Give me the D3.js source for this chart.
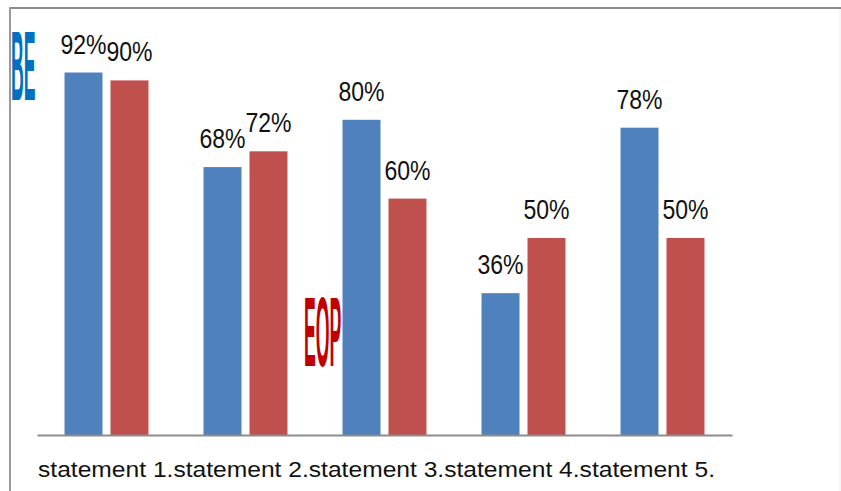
<!DOCTYPE html>
<html>
<head>
<meta charset="utf-8">
<script src="https://cdn.jsdelivr.net/npm/d3@7"></script>
<style>
  html, body { margin: 0; padding: 0; background: #fff; }
  svg { display: block; font-family: "Liberation Sans", Arial, sans-serif; }
</style>
</head>
<body>
<svg id="chart" width="841" height="491"></svg>
<script>
// Statement categories and the two survey groups (percent agreeing)
const categories = ["statement 1.", "statement 2.", "statement 3.", "statement 4.", "statement 5."];
const seriesNames = ["BE", "EOP"];
const beValues = [92, 68, 80, 36, 78];
const eopValues = [90, 72, 60, 50, 50];
const seriesColors = ["#4F81BD", "#C0504D"];

const svg = d3.select("#chart");

const x0 = d3.scaleBand()
  .domain(categories)
  .range([37, 732])
  .paddingInner(0.396)
  .paddingOuter(0.198);

const x1 = d3.scaleBand()
  .domain(seriesNames)
  .range([0, x0.bandwidth()])
  .paddingInner(0.174);

const y = d3.scaleLinear().domain([0, 100]).range([435, 41]);

// Frame lines
svg.append("line").attr("x1", 9).attr("x2", 841).attr("y1", 8).attr("y2", 8)
  .attr("stroke", "#8a8a8a").attr("stroke-width", 2);
svg.append("line").attr("x1", 10).attr("x2", 10).attr("y1", 7).attr("y2", 491)
  .attr("stroke", "#9a9a9a").attr("stroke-width", 2);
svg.append("line").attr("x1", 840).attr("x2", 840).attr("y1", 9).attr("y2", 491)
  .attr("stroke", "#ececec").attr("stroke-width", 1);

// Squeezed series name markers
function marker(text, color, xPos, yBase) {
  svg.append("text")
    .attr("transform", `translate(${xPos},${yBase}) scale(0.18,1)`)
    .attr("font-size", 98)
    .attr("font-weight", "bold")
    .attr("fill", color)
    .text(text);
}
marker("BE", "#0070C0", 11, 100);
marker("EOP", "#C00000", 304, 366);

const rows = categories.map((c, i) => ({ cat: c, values: [beValues[i], eopValues[i]] }));

const groups = svg.append("g").selectAll("g")
  .data(rows)
  .join("g")
  .attr("transform", d => `translate(${x0(d.cat)},0)`);

groups.selectAll("rect")
  .data(d => d.values.map((v, k) => ({ key: seriesNames[k], v, k })))
  .join("rect")
  .attr("x", d => x1(d.key))
  .attr("width", x1.bandwidth())
  .attr("y", d => y(d.v))
  .attr("height", d => y(0) - y(d.v))
  .attr("fill", d => seriesColors[d.k]);

groups.selectAll("text.val")
  .data(d => d.values.map((v, k) => ({ key: seriesNames[k], v, k })))
  .join("text")
  .attr("class", "val")
  .attr("transform", d => `translate(${x1(d.key) + x1.bandwidth() / 2},${y(d.v) - 19}) scale(0.96,1.12)`)
  .attr("text-anchor", "middle")
  .attr("font-size", 24)
  .attr("fill", "#111")
  .text(d => d.v + "%");

// Category axis: baseline from the axis, labels set as one continuous run
const axis = svg.append("g")
  .attr("transform", `translate(0,${y(0)})`)
  .call(d3.axisBottom(x0).tickSize(0).tickSizeOuter(0).tickFormat(""));
axis.select(".domain").attr("stroke", "#8c8c8c").attr("stroke-width", 2);

svg.append("text")
  .attr("x", x0.range()[0] + 1)
  .attr("y", y(0) + 42)
  .attr("font-size", 22)
  .attr("fill", "#111")
  .attr("textLength", 677)
  .attr("lengthAdjust", "spacingAndGlyphs")
  .text(categories.join(""));
</script>
</body>
</html>
